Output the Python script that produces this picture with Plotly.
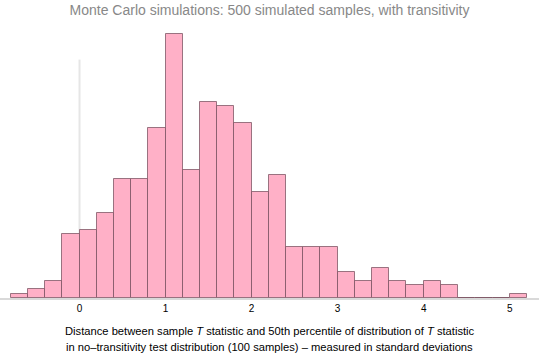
import plotly.graph_objects as go

# гистограмма: левые границы бинов (шаг 0.2) и число выборок в каждом
bin_width = 0.2
bin_starts = [-0.8, -0.6, -0.4, -0.2, 0.0, 0.2, 0.4, 0.6, 0.8, 1.0,
              1.2, 1.4, 1.6, 1.8, 2.0, 2.2, 2.4, 2.6, 2.8, 3.0,
              3.2, 3.4, 3.6, 3.8, 4.0, 4.2, 4.4, 4.6, 4.8, 5.0]
counts = [1, 2, 4, 15, 16, 20, 28, 28, 40, 62,
          30, 46, 45, 41, 25, 29, 12, 12, 12, 6,
          4, 7, 4, 3, 4, 3, 0, 0, 0, 1]
tick_vals = [0, 1, 2, 3, 4, 5]

title = "Monte Carlo simulations: 500 simulated samples, with transitivity"
x_title_lines = [
    "Distance between sample <i>T</i> statistic and 50th percentile of distribution of <i>T</i> statistic",
    "in no\u2013transitivity test distribution (100 samples) \u2013 measured in standard deviations",
]

fig = go.Figure()
fig.add_trace(go.Bar(
    x=bin_starts, y=counts, width=bin_width, offset=0,
    marker=dict(color="#ffb0c7", line=dict(color="rgba(120,80,95,0.75)", width=1)),
    hoverinfo="x+y",
))

# вертикальная ось у нуля, как на исходнике
fig.add_shape(type="line", xref="x", yref="y", x0=0, x1=0, y0=0, y1=56,
              line=dict(color="#e6e6e6", width=2), layer="below")

# подпись оси x двумя строками, с шагом как на исходнике
annotations = []
for i, line in enumerate(x_title_lines):
    annotations.append(dict(text=line, xref="paper", yref="paper", x=0.5, y=-0.119 - 0.056 * i,
                            xanchor="center", yanchor="middle", showarrow=False,
                            font=dict(size=11.2, color="black")))

fig.update_layout(
    width=539, height=357,
    margin=dict(l=0, r=0, t=17, b=59),
    paper_bgcolor="white", plot_bgcolor="white",
    font=dict(family="Liberation Sans, Arial, sans-serif", color="black"),
    showlegend=False,
    bargap=0,
    title=dict(text=title, x=0.5, xanchor="center", y=1 - 10 / 357, yanchor="middle",
               font=dict(size=14, color="#888888")),
    xaxis=dict(range=[-0.924, 5.34], tickvals=tick_vals, ticks="", showgrid=False,
               zeroline=False, showline=True, linecolor="#d9d9d9", linewidth=2,
               tickfont=dict(size=10)),
    yaxis=dict(range=[0, 66], visible=False),
    annotations=annotations,
)

# убираем отступ body, чтобы график начинался с левого верхнего угла
fig.write_html("out.html", config={"displayModeBar": False},
               post_script="document.body.style.margin='0';")
